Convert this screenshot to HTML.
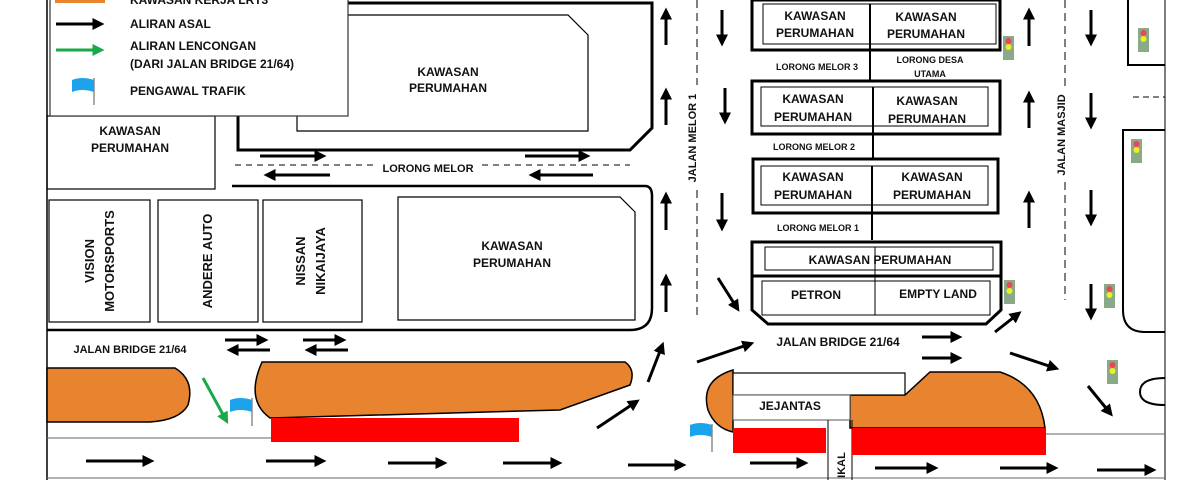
<!DOCTYPE html>
<html><head><meta charset="utf-8"><style>
html,body{margin:0;padding:0;background:#fff;}
svg{display:block;}
text{font-family:"Liberation Sans",sans-serif;font-weight:bold;fill:#111;}
</style></head><body>
<svg width="1200" height="480" viewBox="0 0 1200 480" xmlns="http://www.w3.org/2000/svg">
<defs>
<marker id="ah" markerWidth="4" markerHeight="4" refX="2.5" refY="2" orient="auto" markerUnits="strokeWidth"><path d="M0,0 L4,2 L0,4 z" fill="#000"/></marker>
<marker id="ag" markerWidth="4" markerHeight="4" refX="2.5" refY="2" orient="auto" markerUnits="strokeWidth"><path d="M0,0 L4,2 L0,4 z" fill="#1aa84a"/></marker>
</defs>
<g fill="none" stroke="#000">
<line x1="47" y1="0" x2="47" y2="480" stroke-width="1.5"/>
<line x1="1165" y1="0" x2="1165" y2="480" stroke-width="1.5" stroke="#555"/>
<path d="M238,0 V150 H630 L652,128 V3 H238" stroke-width="3"/>
<path d="M297,15 H568 L588,35 V131 H297 Z" stroke-width="1.2"/>
<rect x="47" y="116" width="168" height="73" stroke-width="1.2"/>
<line x1="235" y1="165" x2="375" y2="165" stroke-width="1" stroke-dasharray="6,5"/>
<line x1="482" y1="165" x2="630" y2="165" stroke-width="1" stroke-dasharray="6,5"/>
<path d="M232,186 H645 Q652,186 652,196 V308 Q652,330 630,330 H47" stroke-width="2.5"/>
<rect x="49" y="200" width="101" height="122" stroke-width="1.2"/>
<rect x="158" y="200" width="100" height="122" stroke-width="1.2"/>
<rect x="263" y="200" width="99" height="122" stroke-width="1.2"/>
<path d="M398,197 H620 L635,212 V320 H398 Z" stroke-width="1.2"/>
<line x1="697" y1="0" x2="697" y2="85" stroke-width="1" stroke-dasharray="8,5"/>
<line x1="697" y1="190" x2="697" y2="315" stroke-width="1" stroke-dasharray="8,5"/>
<line x1="1065" y1="0" x2="1065" y2="88" stroke-width="1" stroke-dasharray="8,5"/>
<line x1="1065" y1="182" x2="1065" y2="300" stroke-width="1" stroke-dasharray="8,5"/>
<rect x="752" y="0" width="248" height="50" stroke-width="3"/>
<rect x="763" y="4" width="233" height="40" stroke-width="1"/>
<line x1="870" y1="4" x2="870" y2="80" stroke-width="2"/>
<rect x="752" y="81" width="248" height="53" stroke-width="3"/>
<rect x="761" y="87" width="227" height="39" stroke-width="1"/>
<line x1="873" y1="87" x2="873" y2="158" stroke-width="2"/>
<rect x="753" y="159" width="245" height="54" stroke-width="3"/>
<rect x="761" y="166" width="227" height="39" stroke-width="1"/>
<line x1="872" y1="166" x2="872" y2="240" stroke-width="2"/>
<path d="M752,242 H1001 V310 L986,324 H768 L752,310 Z" stroke-width="3"/>
<line x1="752" y1="276" x2="1001" y2="276" stroke-width="3"/>
<rect x="765" y="247" width="228" height="23" stroke-width="1"/>
<rect x="762" y="281" width="228" height="34" stroke-width="1"/>
<line x1="875" y1="247" x2="875" y2="315" stroke-width="1"/>
<path d="M1128,0 V65 H1165" stroke-width="2"/>
<line x1="1133" y1="97" x2="1165" y2="97" stroke-width="1" stroke-dasharray="6,4"/>
<path d="M1165,130 H1123 V310 Q1123,332 1145,332 H1165" stroke-width="2"/>
<path d="M1165,378 Q1140,378 1140,392 Q1140,405 1165,405" stroke-width="2"/>
<line x1="47" y1="438" x2="272" y2="438" stroke-width="1" stroke="#666"/>
<line x1="1046" y1="434" x2="1165" y2="434" stroke-width="1" stroke="#666"/>
<line x1="47" y1="478" x2="1165" y2="478" stroke-width="1" stroke="#666"/>
</g>
<g fill="#e8832f" stroke="#000" stroke-width="1.5">
<path d="M47,368 H175 Q195,380 188,405 Q180,420 150,422 H47 Z"/>
<path d="M262,362 H625 Q636,370 630,385 L560,410 L270,418 Q245,400 262,362 Z"/>
<path d="M733,370 Q700,380 708,410 Q715,428 733,432 Z"/>
<path d="M850,420 V395 H905 L930,372 H1000 Q1040,385 1045,428 H850 Z"/>
</g>
<rect x="733" y="373" width="172" height="22" fill="#fff" stroke="#000" stroke-width="1.2"/>
<rect x="733" y="395" width="117" height="25" fill="#fff" stroke="#555" stroke-width="1"/>
<line x1="828" y1="420" x2="828" y2="480" stroke="#000"/>
<line x1="852" y1="420" x2="852" y2="480" stroke="#000"/>
<rect x="271" y="418" width="248" height="24" fill="#f00"/>
<rect x="733" y="428" width="93" height="25" fill="#f00"/>
<rect x="852" y="428" width="194" height="27" fill="#f00"/>
<rect x="50" y="-2" width="298" height="118" fill="#fff" stroke="#333" stroke-width="1.2"/>
<rect x="55" y="-6" width="50" height="9" fill="#e8832f"/>
<text x="130" y="4" font-size="12">KAWASAN KERJA LRT3</text>
<line x1="56" y1="24" x2="100" y2="24" stroke="#000" stroke-width="3" marker-end="url(#ah)"/>
<line x1="56" y1="50" x2="100" y2="50" stroke="#1aa84a" stroke-width="3" marker-end="url(#ag)"/>
<text x="130" y="28" font-size="12">ALIRAN ASAL</text>
<text x="130" y="50" font-size="12">ALIRAN LENCONGAN</text>
<text x="130" y="68" font-size="12">(DARI JALAN BRIDGE 21/64)</text>
<text x="130" y="95" font-size="12">PENGAWAL TRAFIK</text>
<g>
<line x1="94" y1="78" x2="94" y2="105" stroke="#555"/><path d="M72,80 Q82,76 94,80 V92 Q82,88 72,92 Z" fill="#1ca3ec"/>
<line x1="252" y1="398" x2="252" y2="426" stroke="#555"/><path d="M230,400 Q240,396 252,400 V412 Q240,408 230,412 Z" fill="#1ca3ec"/>
<line x1="712" y1="424" x2="712" y2="452" stroke="#555"/><path d="M690,425 Q700,421 712,425 V437 Q700,433 690,437 Z" fill="#1ca3ec"/>
</g>
<g stroke="#000" stroke-width="3" marker-end="url(#ah)">
<line x1="260" y1="156" x2="322" y2="156"/><line x1="330" y1="175" x2="268" y2="175"/>
<line x1="525" y1="156" x2="586" y2="156"/><line x1="593" y1="175" x2="533" y2="175"/>
<line x1="225" y1="340" x2="264" y2="340"/><line x1="270" y1="350" x2="231" y2="350"/>
<line x1="303" y1="340" x2="342" y2="340"/><line x1="348" y1="350" x2="309" y2="350"/>
<line x1="86" y1="461" x2="150" y2="461"/><line x1="266" y1="461" x2="322" y2="461"/>
<line x1="388" y1="463" x2="443" y2="463"/><line x1="503" y1="463" x2="558" y2="463"/>
<line x1="628" y1="465" x2="682" y2="465"/><line x1="750" y1="463" x2="804" y2="463"/>
<line x1="875" y1="468" x2="934" y2="468"/><line x1="1000" y1="468" x2="1054" y2="468"/>
<line x1="1097" y1="470" x2="1152" y2="470"/>
<line x1="597" y1="428" x2="636" y2="402"/><line x1="648" y1="382" x2="662" y2="346"/>
<line x1="697" y1="362" x2="750" y2="344"/><line x1="718" y1="278" x2="737" y2="308"/>
<line x1="922" y1="337" x2="958" y2="337"/><line x1="922" y1="358" x2="958" y2="358"/>
<line x1="995" y1="332" x2="1018" y2="314"/><line x1="1010" y1="353" x2="1055" y2="368"/>
<line x1="1088" y1="386" x2="1110" y2="413"/>
<line x1="666" y1="45" x2="666" y2="12"/><line x1="666" y1="125" x2="666" y2="92"/>
<line x1="666" y1="230" x2="666" y2="196"/><line x1="666" y1="312" x2="666" y2="278"/>
<line x1="722" y1="10" x2="722" y2="42"/><line x1="725" y1="88" x2="725" y2="120"/>
<line x1="722" y1="193" x2="722" y2="227"/>
<line x1="1029" y1="46" x2="1029" y2="12"/><line x1="1029" y1="128" x2="1029" y2="95"/>
<line x1="1029" y1="228" x2="1029" y2="195"/>
<line x1="1091" y1="10" x2="1091" y2="42"/><line x1="1091" y1="93" x2="1091" y2="125"/>
<line x1="1091" y1="190" x2="1091" y2="222"/><line x1="1091" y1="284" x2="1091" y2="316"/>
</g>
<line x1="203" y1="378" x2="226" y2="420" stroke="#1aa84a" stroke-width="3" marker-end="url(#ag)"/>
<g>
<g transform="translate(1003,36)"><rect width="11" height="24" fill="#8a8"/><circle cx="5.5" cy="5" r="3" fill="#e45"/><circle cx="5.5" cy="11" r="3" fill="#ee2"/></g>
<g transform="translate(1004,280)"><rect width="11" height="24" fill="#8a8"/><circle cx="5.5" cy="5" r="3" fill="#e45"/><circle cx="5.5" cy="11" r="3" fill="#ee2"/></g>
<g transform="translate(1138,28)"><rect width="11" height="24" fill="#8a8"/><circle cx="5.5" cy="5" r="3" fill="#e45"/><circle cx="5.5" cy="11" r="3" fill="#ee2"/></g>
<g transform="translate(1131,139)"><rect width="11" height="24" fill="#8a8"/><circle cx="5.5" cy="5" r="3" fill="#e45"/><circle cx="5.5" cy="11" r="3" fill="#ee2"/></g>
<g transform="translate(1104,284)"><rect width="11" height="24" fill="#8a8"/><circle cx="5.5" cy="5" r="3" fill="#e45"/><circle cx="5.5" cy="11" r="3" fill="#ee2"/></g>
<g transform="translate(1107,360)"><rect width="11" height="24" fill="#8a8"/><circle cx="5.5" cy="5" r="3" fill="#e45"/><circle cx="5.5" cy="11" r="3" fill="#ee2"/></g>
</g>
<g font-size="12" text-anchor="middle">
<text x="448" y="76">KAWASAN</text><text x="448" y="92">PERUMAHAN</text>
<text x="130" y="135">KAWASAN</text><text x="130" y="152">PERUMAHAN</text>
<text x="428" y="172" font-size="11">LORONG MELOR</text>
<text x="512" y="250">KAWASAN</text><text x="512" y="267">PERUMAHAN</text>
<text x="130" y="353" font-size="11">JALAN BRIDGE 21/64</text>
<text x="838" y="346">JALAN BRIDGE 21/64</text>
<text x="790" y="410">JEJANTAS</text>
<text transform="translate(94,261) rotate(-90)" font-size="13">VISION</text>
<text transform="translate(114,261) rotate(-90)" font-size="13">MOTORSPORTS</text>
<text transform="translate(212,261) rotate(-90)" font-size="13">ANDERE AUTO</text>
<text transform="translate(305,261) rotate(-90)" font-size="13">NISSAN</text>
<text transform="translate(325,261) rotate(-90)" font-size="13">NIKAIJAYA</text>
<text transform="translate(696,138) rotate(-90)" font-size="11">JALAN MELOR 1</text>
<text transform="translate(1065,135) rotate(-90)" font-size="11">JALAN MASJID</text>
<text transform="translate(845,465) rotate(-90)" font-size="11">IKAL</text>
<text x="815" y="20">KAWASAN</text><text x="815" y="37">PERUMAHAN</text>
<text x="926" y="21">KAWASAN</text><text x="926" y="38">PERUMAHAN</text>
<text x="817" y="70" font-size="9">LORONG MELOR 3</text>
<text x="930" y="63" font-size="9">LORONG DESA</text><text x="930" y="77" font-size="9">UTAMA</text>
<text x="813" y="103">KAWASAN</text><text x="813" y="121">PERUMAHAN</text>
<text x="927" y="105">KAWASAN</text><text x="927" y="123">PERUMAHAN</text>
<text x="814" y="150" font-size="9">LORONG MELOR 2</text>
<text x="813" y="181">KAWASAN</text><text x="813" y="199">PERUMAHAN</text>
<text x="932" y="181">KAWASAN</text><text x="932" y="199">PERUMAHAN</text>
<text x="818" y="231" font-size="9">LORONG MELOR 1</text>
<text x="880" y="264">KAWASAN PERUMAHAN</text>
<text x="816" y="299">PETRON</text>
<text x="938" y="298">EMPTY LAND</text>
</g>
</svg>
</body></html>
